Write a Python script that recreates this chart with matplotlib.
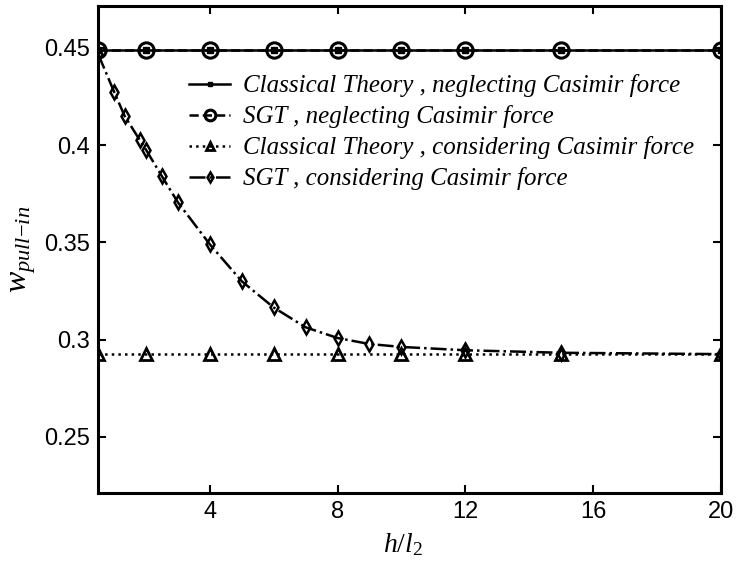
import matplotlib
matplotlib.use('Agg')
import matplotlib.pyplot as plt

# h/l2 values sampled for the constant curves
x_coarse = [0.5, 2, 4, 6, 8, 10, 12, 15, 20]
classic_no_casimir = [0.449] * len(x_coarse)
sgt_no_casimir = [0.449] * len(x_coarse)
classic_casimir = [0.2925] * len(x_coarse)

# SGT with Casimir force
x_sgt = [0.5, 1, 1.33, 1.8, 2, 2.5, 3, 4, 5, 6, 7, 8, 9, 10, 12, 15, 20]
sgt_casimir = [0.447, 0.4276, 0.4151, 0.4028, 0.3977, 0.384, 0.3706, 0.349,
               0.330, 0.3165, 0.3063, 0.3008, 0.2977, 0.2962, 0.2945, 0.2932, 0.2925]

xticks = [4, 8, 12, 16, 20]
yticks = [0.25, 0.3, 0.35, 0.4, 0.45]

plt.rcParams['mathtext.fontset'] = 'custom'
plt.rcParams['mathtext.it'] = 'Liberation Serif:italic'
plt.rcParams['mathtext.rm'] = 'Liberation Serif'

fig = plt.figure(figsize=(7.37, 5.61), dpi=100)
ax = fig.add_axes([0.133, 0.121, 0.845, 0.868])

lw = 1.8
ax.plot(x_coarse, classic_no_casimir, '-', color='k', lw=lw, marker='s', ms=4,
        label='Classical Theory , neglecting Casimir force')
ax.plot(x_coarse, sgt_no_casimir, '--', color='k', lw=lw, marker='o', ms=11,
        mfc='none', mew=2.2, label='SGT , neglecting Casimir force')
ax.plot(x_coarse, classic_casimir, ':', color='k', lw=lw, marker='^', ms=9,
        mfc='none', mew=2.0, label='Classical Theory , considering Casimir force')
ax.plot(x_sgt, sgt_casimir, '-.', color='k', lw=lw, marker='d', ms=7,
        mfc='none', mew=1.8, label='SGT , considering Casimir force')

ax.set_xlim(0.5, 20)
ax.set_ylim(0.221, 0.4715)
ax.set_xticks(xticks)
ax.set_xticklabels([str(t) for t in xticks])
ax.set_yticks(yticks)
ax.set_yticklabels(['0.25', '0.3', '0.35', '0.4', '0.45'])
ax.tick_params(direction='in', top=True, right=True, length=6, width=1.5,
               labelsize=17, pad=6)
for lab in ax.get_xticklabels() + ax.get_yticklabels():
    lab.set_family('Liberation Sans')
for sp in ax.spines.values():
    sp.set_linewidth(2.2)

ax.set_xlabel(r'$h/l_2$', fontsize=20, labelpad=2)
ax.xaxis.set_label_coords(0.49, -0.075)
ax.set_ylabel(r'$w_{pull\mathrm{-}in}$', fontsize=23, labelpad=4)

leg = ax.legend(loc='upper left', bbox_to_anchor=(0.146, 0.86), frameon=False,
                prop={'family': 'Liberation Serif', 'style': 'italic', 'size': 18},
                handlelength=1.65, handletextpad=0.5, labelspacing=0.32,
                borderpad=0, borderaxespad=0, markerscale=0.7)

fig.savefig('out.png', dpi=100)
